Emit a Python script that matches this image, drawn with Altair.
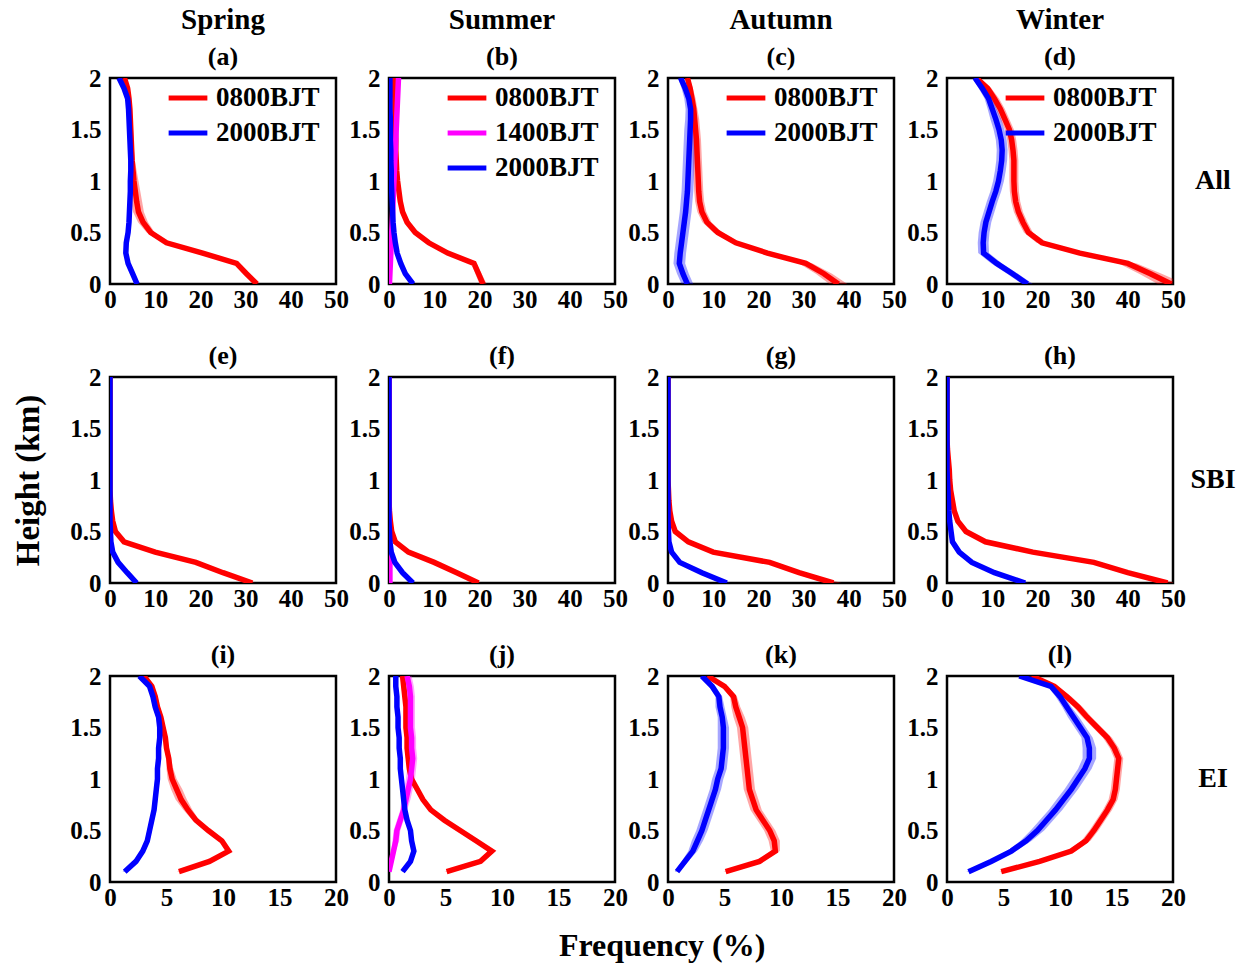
import altair as alt
import pandas as pd

FONT = "Liberation Serif"
SEASONS = ["Spring", "Summer", "Autumn", "Winter"]
ROW_LABELS = ["All", "SBI", "EI"]
LETTERS = ["a", "b", "c", "d", "e", "f", "g", "h", "i", "j", "k", "l"]
S08, S14, S20 = "0800BJT", "1400BJT", "2000BJT"
COLORS = {S08: "#ff0000", S14: "#ff00ff", S20: "#0000ff"}
BAND_COLORS = {S08: "rgba(255,0,0,0.35)", S14: "rgba(255,0,255,0.35)", S20: "rgba(0,0,255,0.35)"}

# heights (km)
H_FULL = [0.0, 0.1, 0.2, 0.3, 0.4, 0.5, 0.6, 0.7, 0.8, 0.9, 1.0,
          1.1, 1.2, 1.3, 1.4, 1.5, 1.6, 1.7, 1.8, 1.9, 2.0]
H_EI = [0.1, 0.2, 0.3, 0.4, 0.5, 0.6, 0.7, 0.8, 0.9, 1.0,
        1.1, 1.2, 1.3, 1.4, 1.5, 1.6, 1.7, 1.8, 1.9, 2.0]

# ---- All (row 1) ----
a_red = [32.5, 30.2, 28.0, 20.5, 12.5, 9.0, 7.3, 6.3, 5.9, 5.6, 5.3, 5.1, 4.9, 4.8, 4.7, 4.6, 4.5, 4.4, 4.2, 3.9, 3.2]
a_red_sd = [0.5, 0.5, 0.5, 0.6, 0.7, 0.9, 1.1, 1.2, 1.2, 1.1, 1.0, 0.8, 0.6, 0.5, 0.5, 0.5, 0.4, 0.4, 0.4, 0.4, 0.4]
a_blue = [6.0, 5.0, 4.0, 3.5, 3.6, 4.0, 4.2, 4.3, 4.4, 4.5, 4.5, 4.6, 4.6, 4.5, 4.4, 4.3, 4.2, 4.1, 3.9, 3.1, 2.0]
a_blue_sd = [0.4, 0.4, 0.4, 0.4, 0.4, 0.4, 0.4, 0.4, 0.4, 0.4, 0.4, 0.4, 0.4, 0.4, 0.4, 0.4, 0.4, 0.4, 0.4, 0.4, 0.4]

b_red = [20.8, 19.8, 18.8, 13.0, 8.8, 5.8, 4.0, 3.0, 2.5, 2.2, 1.9, 1.7, 1.6, 1.5, 1.5, 1.4, 1.4, 1.3, 1.3, 1.2, 1.1]
b_red_sd = [0.8, 0.7, 0.6, 0.5, 0.4, 0.4, 0.3, 0.3, 0.3, 0.3, 0.3, 0.3, 0.3, 0.3, 0.3, 0.3, 0.3, 0.3, 0.3, 0.3, 0.3]
b_mag = [0.1, 0.2, 0.3, 0.4, 0.5, 0.6, 0.7, 0.8, 0.9, 1.0, 1.1, 1.2, 1.3, 1.4, 1.5, 1.6, 1.7, 1.8, 1.9, 2.0, 2.1]
b_mag_sd = [0.2, 0.2, 0.2, 0.2, 0.2, 0.2, 0.2, 0.3, 0.3, 0.3, 0.3, 0.3, 0.3, 0.3, 0.3, 0.3, 0.3, 0.3, 0.3, 0.3, 0.3]
b_blue = [5.3, 3.6, 2.6, 1.8, 1.4, 1.1, 0.9, 0.8, 0.7, 0.6, 0.5, 0.5, 0.4, 0.4, 0.3, 0.3, 0.3, 0.2, 0.2, 0.2, 0.2]
b_blue_sd = [0.3, 0.3, 0.3, 0.3, 0.3, 0.3, 0.3, 0.3, 0.3, 0.3, 0.3, 0.3, 0.3, 0.3, 0.3, 0.3, 0.3, 0.3, 0.3, 0.3, 0.3]

c_red = [37.7, 34.5, 30.5, 22.0, 15.0, 11.0, 8.6, 7.5, 7.0, 6.8, 6.7, 6.6, 6.5, 6.4, 6.3, 6.1, 5.9, 5.7, 5.3, 4.9, 4.3]
c_red_sd = [2.0, 1.8, 1.5, 1.2, 1.0, 1.0, 1.0, 1.0, 1.0, 1.0, 1.0, 1.0, 1.0, 1.0, 1.0, 1.0, 1.0, 0.8, 0.8, 0.6, 0.5]
c_blue = [4.3, 3.3, 2.5, 2.7, 3.0, 3.3, 3.6, 3.9, 4.1, 4.3, 4.4, 4.5, 4.6, 4.7, 4.8, 4.9, 5.0, 5.0, 4.6, 3.8, 2.8]
c_blue_sd = [1.3, 1.3, 1.3, 1.3, 1.3, 1.3, 1.3, 1.3, 1.3, 1.3, 1.3, 1.3, 1.3, 1.3, 1.3, 1.3, 1.2, 1.1, 1.0, 0.8, 0.6]

d_red = [49.6, 45.0, 40.0, 29.4, 21.0, 18.0, 16.8, 15.8, 15.2, 14.9, 14.8, 14.8, 14.8, 14.6, 14.3, 13.8, 12.8, 11.8, 10.5, 9.0, 6.5]
d_red_sd = [3.0, 2.5, 2.0, 1.5, 1.2, 1.0, 1.0, 1.0, 1.0, 1.0, 1.0, 1.0, 1.0, 1.0, 1.0, 1.0, 1.0, 1.0, 1.0, 0.8, 0.6]
d_blue = [17.8, 14.5, 11.0, 8.1, 8.0, 8.2, 8.6, 9.3, 10.0, 10.8, 11.4, 11.8, 12.1, 12.2, 12.0, 11.5, 10.8, 10.0, 9.2, 7.8, 6.2]
d_blue_sd = [1.2, 1.2, 1.2, 1.2, 1.2, 1.2, 1.2, 1.2, 1.2, 1.2, 1.2, 1.2, 1.2, 1.2, 1.2, 1.2, 1.2, 1.0, 0.9, 0.8, 0.6]

# ---- SBI (row 2) ----
e_red = [31.5, 25.0, 19.0, 10.0, 3.1, 1.2, 0.6, 0.3, 0.1, 0.0, 0.0, 0.0, 0.0, 0.0, 0.0, 0.0, 0.0, 0.0, 0.0, 0.0, 0.0]
e_red_sd = [0.6, 0.5, 0.5, 0.4, 0.3, 0.2, 0.1, 0.1, 0.1, 0.0, 0.0, 0.0, 0.0, 0.0, 0.0, 0.0, 0.0, 0.0, 0.0, 0.0, 0.0]
e_blue = [5.9, 3.8, 1.8, 0.6, 0.2, 0.1, 0.0, 0.0, 0.0, 0.0, 0.0, 0.0, 0.0, 0.0, 0.0, 0.0, 0.0, 0.0, 0.0, 0.0, 0.0]
e_blue_sd = [0.3, 0.3, 0.2, 0.1, 0.1, 0.0, 0.0, 0.0, 0.0, 0.0, 0.0, 0.0, 0.0, 0.0, 0.0, 0.0, 0.0, 0.0, 0.0, 0.0, 0.0]

f_red = [19.8, 15.0, 10.0, 4.3, 1.4, 0.6, 0.3, 0.1, 0.0, 0.0, 0.0, 0.0, 0.0, 0.0, 0.0, 0.0, 0.0, 0.0, 0.0, 0.0, 0.0]
f_red_sd = [0.5, 0.4, 0.3, 0.2, 0.1, 0.1, 0.0, 0.0, 0.0, 0.0, 0.0, 0.0, 0.0, 0.0, 0.0, 0.0, 0.0, 0.0, 0.0, 0.0, 0.0]
f_mag = [0.2, 0.2, 0.2, 0.1, 0.0, 0.0, 0.0, 0.0, 0.0, 0.0, 0.0, 0.0, 0.0, 0.0, 0.0, 0.0, 0.0, 0.0, 0.0, 0.0, 0.0]
f_mag_sd = [0.1, 0.1, 0.1, 0.0, 0.0, 0.0, 0.0, 0.0, 0.0, 0.0, 0.0, 0.0, 0.0, 0.0, 0.0, 0.0, 0.0, 0.0, 0.0, 0.0, 0.0]
f_blue = [5.3, 3.0, 1.3, 0.5, 0.2, 0.1, 0.0, 0.0, 0.0, 0.0, 0.0, 0.0, 0.0, 0.0, 0.0, 0.0, 0.0, 0.0, 0.0, 0.0, 0.0]
f_blue_sd = [0.3, 0.2, 0.1, 0.1, 0.0, 0.0, 0.0, 0.0, 0.0, 0.0, 0.0, 0.0, 0.0, 0.0, 0.0, 0.0, 0.0, 0.0, 0.0, 0.0, 0.0]

g_red = [36.6, 29.0, 22.5, 10.0, 4.5, 1.6, 0.8, 0.4, 0.2, 0.1, 0.0, 0.0, 0.0, 0.0, 0.0, 0.0, 0.0, 0.0, 0.0, 0.0, 0.0]
g_red_sd = [1.8, 1.4, 1.0, 0.6, 0.3, 0.2, 0.1, 0.1, 0.0, 0.0, 0.0, 0.0, 0.0, 0.0, 0.0, 0.0, 0.0, 0.0, 0.0, 0.0, 0.0]
g_blue = [13.0, 7.5, 2.6, 0.8, 0.2, 0.1, 0.0, 0.0, 0.0, 0.0, 0.0, 0.0, 0.0, 0.0, 0.0, 0.0, 0.0, 0.0, 0.0, 0.0, 0.0]
g_blue_sd = [0.8, 0.5, 0.3, 0.1, 0.1, 0.0, 0.0, 0.0, 0.0, 0.0, 0.0, 0.0, 0.0, 0.0, 0.0, 0.0, 0.0, 0.0, 0.0, 0.0, 0.0]

h_red = [48.8, 40.0, 32.5, 19.0, 8.5, 4.2, 2.4, 1.6, 1.2, 0.8, 0.6, 0.5, 0.3, 0.1, 0.0, 0.0, 0.0, 0.0, 0.0, 0.0, 0.0]
h_red_sd = [1.8, 1.5, 1.2, 0.8, 0.5, 0.3, 0.2, 0.1, 0.1, 0.1, 0.1, 0.0, 0.0, 0.0, 0.0, 0.0, 0.0, 0.0, 0.0, 0.0, 0.0]
h_blue = [17.3, 10.5, 5.5, 2.7, 1.2, 0.9, 0.6, 0.4, 0.3, 0.2, 0.1, 0.0, 0.0, 0.0, 0.0, 0.0, 0.0, 0.0, 0.0, 0.0, 0.0]
h_blue_sd = [0.8, 0.5, 0.3, 0.2, 0.1, 0.1, 0.0, 0.0, 0.0, 0.0, 0.0, 0.0, 0.0, 0.0, 0.0, 0.0, 0.0, 0.0, 0.0, 0.0, 0.0]

# ---- EI (row 3) ----
i_red = [6.1, 8.8, 10.5, 9.9, 8.7, 7.6, 6.9, 6.3, 5.9, 5.5, 5.3, 5.2, 5.0, 4.9, 4.7, 4.5, 4.2, 4.0, 3.7, 3.0]
i_red_sd = [0.2, 0.2, 0.2, 0.2, 0.3, 0.3, 0.4, 0.5, 0.5, 0.4, 0.3, 0.2, 0.2, 0.2, 0.2, 0.2, 0.2, 0.2, 0.2, 0.2]
i_blue = [1.3, 2.3, 2.9, 3.3, 3.5, 3.7, 3.9, 4.0, 4.1, 4.2, 4.2, 4.3, 4.3, 4.4, 4.4, 4.3, 4.0, 3.8, 3.5, 2.6]
i_blue_sd = [0.2, 0.2, 0.2, 0.2, 0.2, 0.2, 0.2, 0.2, 0.2, 0.2, 0.2, 0.2, 0.2, 0.2, 0.2, 0.2, 0.2, 0.2, 0.2, 0.2]

j_red = [5.1, 8.1, 9.1, 7.7, 6.3, 4.9, 3.7, 3.0, 2.5, 2.0, 1.8, 1.7, 1.6, 1.6, 1.5, 1.5, 1.5, 1.4, 1.3, 1.2]
j_red_sd = [0.2, 0.2, 0.3, 0.2, 0.2, 0.2, 0.2, 0.2, 0.2, 0.2, 0.2, 0.2, 0.2, 0.2, 0.2, 0.2, 0.2, 0.2, 0.2, 0.2]
j_mag = [0.0, 0.2, 0.4, 0.6, 0.7, 1.0, 1.3, 1.5, 1.7, 1.9, 2.0, 2.1, 2.0, 2.0, 1.9, 1.9, 1.9, 1.9, 1.8, 1.6]
j_mag_sd = [0.1, 0.2, 0.2, 0.3, 0.3, 0.3, 0.3, 0.4, 0.4, 0.4, 0.4, 0.4, 0.4, 0.4, 0.4, 0.4, 0.4, 0.4, 0.4, 0.4]
j_blue = [1.2, 1.9, 2.2, 2.0, 1.9, 1.6, 1.4, 1.3, 1.2, 1.1, 1.0, 1.0, 0.9, 0.9, 0.8, 0.8, 0.7, 0.7, 0.6, 0.6]
j_blue_sd = [0.1, 0.1, 0.1, 0.1, 0.1, 0.1, 0.1, 0.1, 0.1, 0.1, 0.1, 0.1, 0.1, 0.1, 0.1, 0.1, 0.1, 0.1, 0.1, 0.1]

k_red = [5.1, 8.1, 9.5, 9.4, 9.0, 8.4, 7.8, 7.5, 7.2, 7.1, 7.0, 6.9, 6.8, 6.7, 6.6, 6.3, 6.0, 5.8, 5.0, 3.5]
k_red_sd = [0.2, 0.3, 0.4, 0.5, 0.5, 0.5, 0.5, 0.5, 0.5, 0.5, 0.5, 0.5, 0.5, 0.5, 0.5, 0.5, 0.4, 0.3, 0.3, 0.2]
k_blue = [0.8, 1.5, 2.2, 2.6, 3.0, 3.3, 3.6, 3.9, 4.2, 4.4, 4.7, 4.8, 4.9, 4.9, 4.9, 4.8, 4.6, 4.5, 3.9, 3.0]
k_blue_sd = [0.2, 0.3, 0.4, 0.5, 0.5, 0.5, 0.5, 0.5, 0.5, 0.5, 0.5, 0.5, 0.5, 0.5, 0.5, 0.4, 0.4, 0.3, 0.3, 0.2]

l_red = [4.8, 8.2, 11.0, 12.3, 13.0, 13.6, 14.2, 14.7, 14.9, 15.0, 15.1, 15.2, 14.8, 14.2, 13.3, 12.4, 11.6, 10.6, 9.5, 7.5]
l_red_sd = [0.2, 0.3, 0.4, 0.4, 0.4, 0.4, 0.4, 0.4, 0.4, 0.4, 0.4, 0.4, 0.4, 0.4, 0.4, 0.4, 0.4, 0.4, 0.3, 0.3]
l_blue = [1.9, 3.9, 5.7, 7.0, 8.0, 8.8, 9.6, 10.3, 11.0, 11.6, 12.2, 12.6, 12.6, 12.4, 11.8, 11.2, 10.6, 10.0, 9.2, 6.4]
l_blue_sd = [0.2, 0.3, 0.4, 0.5, 0.6, 0.6, 0.6, 0.6, 0.6, 0.6, 0.6, 0.6, 0.6, 0.5, 0.5, 0.5, 0.4, 0.4, 0.3, 0.2]

PANELS = [
    [(S08, a_red, a_red_sd), (S20, a_blue, a_blue_sd)],
    [(S08, b_red, b_red_sd), (S14, b_mag, b_mag_sd), (S20, b_blue, b_blue_sd)],
    [(S08, c_red, c_red_sd), (S20, c_blue, c_blue_sd)],
    [(S08, d_red, d_red_sd), (S20, d_blue, d_blue_sd)],
    [(S08, e_red, e_red_sd), (S20, e_blue, e_blue_sd)],
    [(S08, f_red, f_red_sd), (S14, f_mag, f_mag_sd), (S20, f_blue, f_blue_sd)],
    [(S08, g_red, g_red_sd), (S20, g_blue, g_blue_sd)],
    [(S08, h_red, h_red_sd), (S20, h_blue, h_blue_sd)],
    [(S08, i_red, i_red_sd), (S20, i_blue, i_blue_sd)],
    [(S08, j_red, j_red_sd), (S14, j_mag, j_mag_sd), (S20, j_blue, j_blue_sd)],
    [(S08, k_red, k_red_sd), (S20, k_blue, k_blue_sd)],
    [(S08, l_red, l_red_sd), (S20, l_blue, l_blue_sd)],
]
X_MAX = [50, 50, 20]
X_TICKS = [[0, 10, 20, 30, 40, 50], [0, 10, 20, 30, 40, 50], [0, 5, 10, 15, 20]]
HEIGHTS = [H_FULL, H_FULL, H_EI]

W, H = 226, 206


def make_panel(idx):
    row, col = divmod(idx, 4)
    series = PANELS[idx]
    hts = HEIGHTS[row]
    recs = []
    for name, vals, sds in series:
        for h, v, s in zip(hts, vals, sds):
            recs.append({"h": h, "v": v, "lo": v - s, "hi": v + s,
                         "s": name, "c": BAND_COLORS[name]})
    df = pd.DataFrame(recs)
    names = [s[0] for s in series]
    xs = alt.Scale(domain=[0, X_MAX[row]], nice=False)
    ys = alt.Scale(domain=[0, 2], nice=False)
    xaxis = alt.Axis(values=X_TICKS[row], title=None, labelFlush=False,
                     labelOverlap=False, labelPadding=3)
    ytitle = "Height (km)" if idx == 4 else None
    yaxis = alt.Axis(values=[0, 0.5, 1, 1.5, 2], format="~g", title=ytitle,
                     labelPadding=9, titlePadding=24, titleFontSize=33)
    band = alt.Chart(df).mark_area(orient="horizontal", clip=True).encode(
        y=alt.Y("h:Q", scale=ys, axis=yaxis),
        x=alt.X("lo:Q", scale=xs, axis=xaxis),
        x2="hi:Q",
        color=alt.Color("c:N", scale=None),
    )
    color_kw = dict(scale=alt.Scale(domain=names, range=[COLORS[n] for n in names]))
    if row == 0:
        color_kw["legend"] = alt.Legend(
            orient="none", legendX=56, legendY=-2, title=None, labelFont=FONT,
            labelFontSize=27, labelFontWeight="bold", labelColor="black",
            symbolType="stroke", symbolStrokeWidth=5, symbolSize=1500,
            symbolOpacity=1, labelOffset=6, rowPadding=0, padding=0)
    else:
        color_kw["legend"] = None
    line = alt.Chart(df).mark_line(strokeWidth=5.5, clip=True).encode(
        y=alt.Y("h:Q", scale=ys, axis=yaxis),
        x=alt.X("v:Q", scale=xs, axis=xaxis),
        color=alt.Color("s:N", **color_kw),
        order="h:Q",
    )
    layers = [band, line]
    if col == 3:
        lab = alt.Chart(pd.DataFrame({"t": [ROW_LABELS[row]]})).mark_text(
            font=FONT, fontSize=28, fontWeight="bold", color="black",
            align="center", baseline="middle").encode(
            x=alt.value(W + 40), y=alt.value(H / 2), text="t:N")
        layers.append(lab)
    if row == 0:
        title = alt.TitleParams(text=SEASONS[col], subtitle="(" + LETTERS[idx] + ")",
                                font=FONT, fontSize=29, fontWeight="bold", color="black",
                                subtitleFont=FONT, subtitleFontSize=26,
                                subtitleFontWeight="bold", subtitleColor="black",
                                subtitlePadding=9, offset=-4, anchor="middle")
    else:
        title = alt.TitleParams(text="(" + LETTERS[idx] + ")", font=FONT, fontSize=26,
                                fontWeight="bold", color="black", offset=-4, anchor="middle")
    return alt.layer(*layers).properties(width=W, height=H, title=title)


panels = [make_panel(i) for i in range(12)]

chart = alt.concat(
    *panels, columns=4, spacing={"row": 93, "column": 53}, bounds="flush"
).resolve_scale(color="independent").properties(
    title=alt.TitleParams(text="Frequency (%)", orient="bottom", anchor="middle",
                          font=FONT, fontSize=32, fontWeight="bold", color="black",
                          offset=20, dx=38),
    padding={"left": 11, "top": 4, "right": 5, "bottom": 5},
    background="white",
).configure_view(
    stroke="black", strokeWidth=2.5
).configure_axis(
    labelFont=FONT, labelFontSize=25, labelFontWeight="bold", labelColor="black",
    titleFont=FONT, titleFontWeight="bold", titleColor="black",
    ticks=False, domain=False, grid=False
)

chart.save("out.html", embed_options={"renderer": "svg", "actions": False})
